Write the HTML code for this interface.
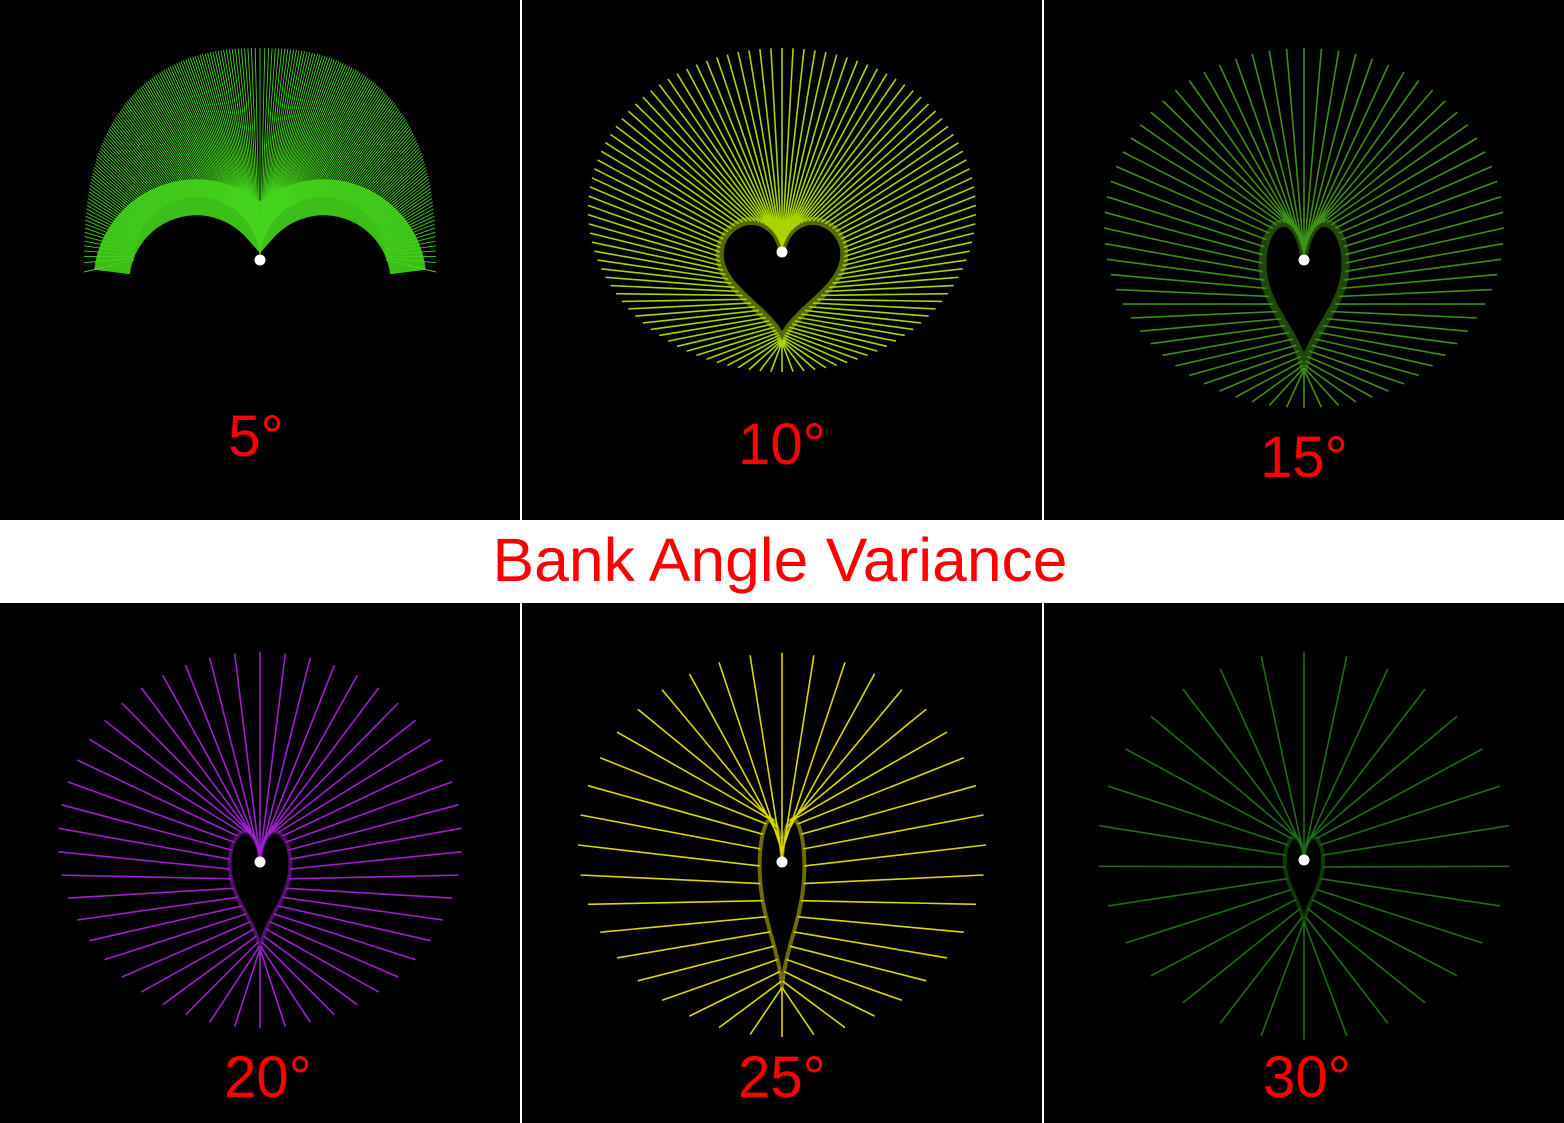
<!DOCTYPE html>
<html><head><meta charset="utf-8"><style>
html,body{margin:0;padding:0;background:#fff}
svg{display:block}
text{font-family:"Liberation Sans",sans-serif;fill:#f00}
</style></head><body>
<svg id="s" width="1564" height="1123" viewBox="0 0 1564 1123">
<rect x="0" y="0" width="1564" height="1123" fill="#fff"/>
<text x="780" y="581" font-size="61" text-anchor="middle" textLength="575" lengthAdjust="spacingAndGlyphs">Bank Angle Variance</text>
</svg>
<script>
const bankAngles=[5,10,15,20,25,30];
const lineCounts=[220,110,72,50,40,30];
const colors=['#44d41c','#a8d400','#3f8f14','#a020d0','#d8d800','#1d6e12'];
const labels=['5°','10°','15°','20°','25°','30°'];
// panel geometry [cx, outerCy, R, ry, heartSx, heartSy, cleftY, labelX, labelY]
const geo=[
 [260,260,176,212,0,0,260,256,456],
 [782,210,194,162,3.9,4.2,250,782,464],
 [1304,228,200,180,2.6,5.1,258,1304,477],
 [260,840,202,188,1.9,4.1,860,268,1097],
 [782,845,204,192,1.4,5.9,860,782,1097],
 [1304,846,206,194,1.2,3.0,858,1307,1097]
];
const NS='http://www.w3.org/2000/svg';
const svg=document.getElementById('s');
function mk(tag,attrs){const e=document.createElementNS(NS,tag);for(const k in attrs)e.setAttribute(k,attrs[k]);return e;}
function heart(t){return [16*Math.pow(Math.sin(t),3),13*Math.cos(t)-5*Math.cos(2*t)-2*Math.cos(3*t)-Math.cos(4*t)];}
bankAngles.forEach((ang,i)=>{
 const col=i%3,row=Math.floor(i/3);
 const px=col*522, py=row?603:0, pw=col==2?1564-1044:520, ph=520;
 const g=mk('g',{});
 
 
 svg.appendChild(g);
 const bg=mk('rect',{x:px,y:py,width:pw,height:ph,fill:'#000'});
 
 
 g.appendChild(bg);
 const [cx,cy,R,ry,sx,sy,cleft,lx,ly]=geo[i];
 const N=lineCounts[i];
 let d='';
 if(i==0){
  for(let k=0;k<=N;k++){
   const a=-Math.PI/2+Math.PI*k/N;
   const s=Math.sin(a), c=Math.abs(Math.cos(a));
   const ox=cx+R*Math.sign(s)*Math.pow(Math.abs(s),0.85), oy=272-224*Math.pow(c,0.75);
   let ix,iy;
   if(a<=0){const phi=Math.PI*(1+a/(Math.PI/2));ix=197-63*Math.cos(phi);iy=260-63*Math.sin(phi);}
   else{const phi=Math.PI*(a/(Math.PI/2));ix=323-63*Math.cos(phi);iy=260-63*Math.sin(phi);}
   d+=`M${ix.toFixed(1)} ${iy.toFixed(1)}L${ox.toFixed(1)} ${oy.toFixed(1)}`;
  }
  const band=mk('path',{d:'M112 272 A85 85 0 0 1 260 226 A85 85 0 0 1 408 272',fill:'none',stroke:colors[i],'stroke-width':36,opacity:0.9});
  
  
  g.appendChild(band);
 } else {
  for(let k=0;k<N;k++){
   const t=2*Math.PI*k/N;
   const [hx,hy]=heart(t);
   const ix=cx+sx*hx, iy=cleft-sy*(hy-5);
   const ox=cx+R*Math.sin(t), oy=cy-ry*Math.cos(t);
   d+=`M${ix.toFixed(1)} ${iy.toFixed(1)}L${ox.toFixed(1)} ${oy.toFixed(1)}`;
  }
  let hd='';
  for(let k=0;k<=120;k++){const t=2*Math.PI*k/120;const [hx,hy]=heart(t);hd+=(k?'L':'M')+(cx+sx*hx).toFixed(1)+' '+(cleft-sy*(hy-5)).toFixed(1);}
  const glow=mk('path',{d:hd+'Z',fill:'none',stroke:colors[i],'stroke-width':i<3?8:4,opacity:0.5});
  
  
  g.appendChild(glow);
 }
 const lines=mk('path',{d:d,stroke:colors[i],'stroke-width':i==0?0.9:1.6,fill:'none'});
 
 
 g.appendChild(lines);
 const dot=mk('circle',{cx:cx,cy:i==0?260:cleft+2,r:5.5,fill:'#fff'});
 
 
 g.appendChild(dot);
 const lab=mk('text',{x:lx,y:ly,'font-size':58,'text-anchor':'middle'});
 lab.textContent=labels[i];
 
 
 g.appendChild(lab);
});
</script>
</body></html>
